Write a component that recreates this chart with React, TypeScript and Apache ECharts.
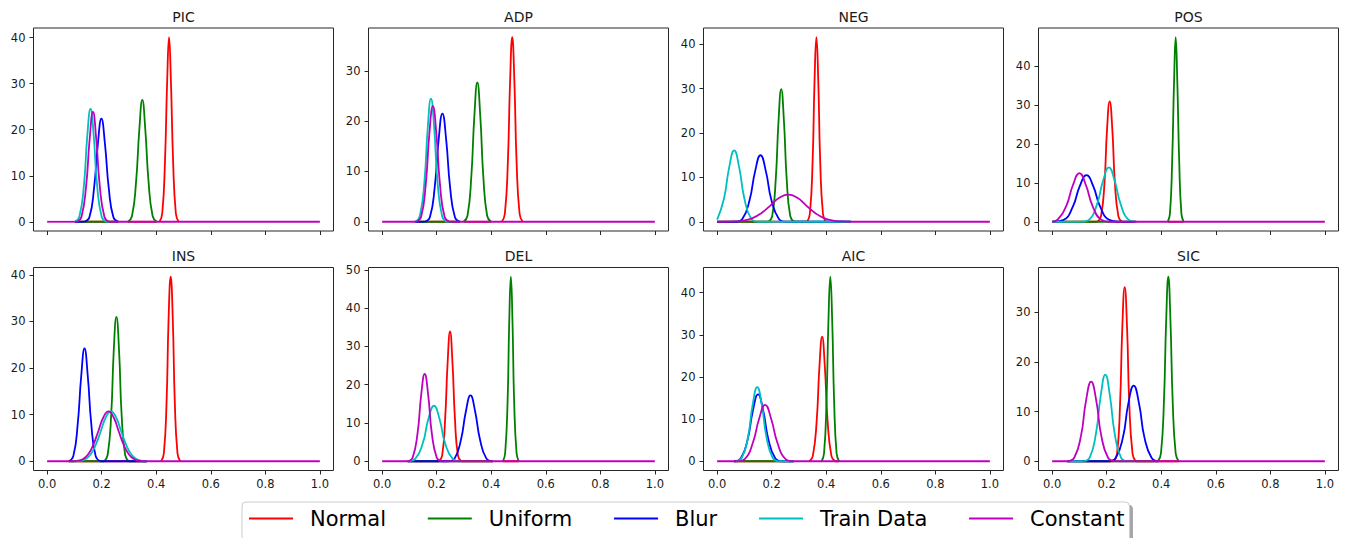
import React, { useEffect, useRef } from "react";
import * as echarts from "echarts";

// ---------- data ----------
const SERIES_NAMES = ["Normal", "Uniform", "Blur", "Train Data", "Constant"];
const SERIES_COLORS = ["#ff0000", "#008000", "#0000ff", "#00bfbf", "#bf00bf"];
const X_TICKS = [0, 0.2, 0.4, 0.6, 0.8, 1.0];
const X_RANGE = [0, 1];

// each panel: curves in order Normal, Uniform, Blur, Train Data, Constant ([x, density])
const PIC = [
  [[0.412,0],[0.422,1.8],[0.432,13.0],[0.440,30.3],[0.447,40.1],[0.454,30.3],[0.462,13.0],[0.472,1.8],[0.482,0]],
  [[0.296,0],[0.311,1.2],[0.326,8.6],[0.338,20.0],[0.349,26.5],[0.360,20.0],[0.372,8.6],[0.387,1.2],[0.402,0]],
  [[0.137,0],[0.155,1.0],[0.172,7.3],[0.186,16.9],[0.199,22.4],[0.212,16.9],[0.226,7.3],[0.243,1.0],[0.261,0]],
  [[0.102,0],[0.118,1.1],[0.135,8.0],[0.147,18.5],[0.159,24.5],[0.171,18.5],[0.183,8.0],[0.200,1.1],[0.216,0]],
  [[0.110,0],[0.126,1.1],[0.143,7.8],[0.156,18.0],[0.168,23.9],[0.180,18.0],[0.193,7.8],[0.210,1.1],[0.226,0]],
];
const ADP = [
  [[0.439,0],[0.450,1.6],[0.461,11.9],[0.469,27.7],[0.477,36.7],[0.485,27.7],[0.493,11.9],[0.504,1.6],[0.515,0]],
  [[0.299,0],[0.313,1.2],[0.327,9.0],[0.338,20.9],[0.349,27.7],[0.360,20.9],[0.371,9.0],[0.385,1.2],[0.399,0]],
  [[0.156,0],[0.175,0.9],[0.193,7.0],[0.207,16.2],[0.221,21.5],[0.235,16.2],[0.249,7.0],[0.267,0.9],[0.286,0]],
  [[0.122,0],[0.138,1.1],[0.155,8.0],[0.167,18.5],[0.179,24.5],[0.191,18.5],[0.203,8.0],[0.220,1.1],[0.236,0]],
  [[0.125,0],[0.143,1.0],[0.160,7.5],[0.173,17.4],[0.186,23.0],[0.199,17.4],[0.212,7.5],[0.229,1.0],[0.247,0]],
];
const NEG = [
  [[0.330,0],[0.340,1.8],[0.350,13.5],[0.357,31.4],[0.364,41.6],[0.371,31.4],[0.378,13.5],[0.388,1.8],[0.398,0]],
  [[0.188,0],[0.202,1.3],[0.215,9.7],[0.225,22.6],[0.235,29.9],[0.245,22.6],[0.255,9.7],[0.268,1.3],[0.282,0]],
  [[0.066,0],[0.093,0.7],[0.119,4.9],[0.139,11.3],[0.159,15.0],[0.179,11.3],[0.199,4.9],[0.226,0.7],[0.252,0]],
  [[0,0.5],[0.025,5.2],[0.044,12.2],[0.0625,16.1],[0.081,12.2],[0.100,5.2],[0.1245,0.7],[0.149,0]],
  [[0.032,0],[0.065,0.07],[0.098,0.27],[0.130,0.82],[0.163,2.0],[0.196,3.7],[0.228,5.4],[0.261,6.1],[0.294,5.4],[0.326,3.7],[0.359,2.0],[0.392,0.82],[0.425,0.27],[0.457,0.07],[0.490,0]],
];
const POS = [
  [[0.166,0],[0.179,1.4],[0.192,10.1],[0.201,23.4],[0.211,31.0],[0.221,23.4],[0.230,10.1],[0.243,1.4],[0.256,0]],
  [[0.424,0],[0.432,2.1],[0.440,15.4],[0.447,35.9],[0.453,47.5],[0.459,35.9],[0.466,15.4],[0.474,2.1],[0.482,0]],
  [[0.010,0],[0.043,0.5],[0.076,3.9],[0.101,9.1],[0.126,12.0],[0.151,9.1],[0.176,3.9],[0.209,0.5],[0.242,0]],
  [[0.108,0],[0.137,0.6],[0.165,4.6],[0.187,10.6],[0.208,14.0],[0.229,10.6],[0.251,4.6],[0.279,0.6],[0.308,0]],
  [[0,0],[0.020,0.55],[0.052,4.1],[0.076,9.4],[0.100,12.5],[0.124,9.4],[0.148,4.1],[0.180,0.55],[0.212,0]],
];
const INS = [
  [[0.418,0],[0.428,1.7],[0.438,12.9],[0.445,29.9],[0.453,39.6],[0.461,29.9],[0.468,12.9],[0.478,1.7],[0.488,0]],
  [[0.209,0],[0.222,1.4],[0.235,10.1],[0.244,23.4],[0.254,31.0],[0.264,23.4],[0.273,10.1],[0.286,1.4],[0.299,0]],
  [[0.079,0],[0.096,1.1],[0.112,7.9],[0.125,18.3],[0.137,24.2],[0.149,18.3],[0.162,7.9],[0.178,1.1],[0.195,0]],
  [[0.103,0],[0.122,0.12],[0.141,0.47],[0.159,1.44],[0.178,3.5],[0.197,6.5],[0.215,9.4],[0.234,10.7],[0.253,9.4],[0.271,6.5],[0.290,3.5],[0.309,1.44],[0.327,0.47],[0.346,0.12],[0.365,0]],
  [[0.094,0],[0.113,0.12],[0.132,0.47],[0.150,1.44],[0.169,3.5],[0.188,6.5],[0.206,9.4],[0.225,10.7],[0.244,9.4],[0.262,6.5],[0.281,3.5],[0.300,1.44],[0.318,0.47],[0.337,0.12],[0.356,0]],
];
const DEL = [
  [[0.208,0],[0.220,1.5],[0.231,11.0],[0.240,25.6],[0.249,33.9],[0.258,25.6],[0.267,11.0],[0.278,1.5],[0.290,0]],
  [[0.443,0],[0.451,2.1],[0.460,15.7],[0.466,36.4],[0.472,48.2],[0.478,36.4],[0.484,15.7],[0.493,2.1],[0.501,0]],
  [[0.243,0],[0.266,0.76],[0.289,5.6],[0.307,13.0],[0.324,17.2],[0.341,13.0],[0.359,5.6],[0.382,0.76],[0.405,0]],
  [[0.094,0],[0.121,0.64],[0.149,4.7],[0.169,10.9],[0.190,14.5],[0.211,10.9],[0.231,4.7],[0.259,0.64],[0.286,0]],
  [[0.095,0],[0.112,1.0],[0.130,7.4],[0.143,17.2],[0.156,22.8],[0.169,17.2],[0.182,7.4],[0.200,1.0],[0.217,0]],
];
const AIC = [
  [[0.338,0],[0.351,1.3],[0.365,9.6],[0.375,22.3],[0.385,29.6],[0.395,22.3],[0.405,9.6],[0.419,1.3],[0.432,0]],
  [[0.383,0],[0.392,1.9],[0.401,14.2],[0.408,33.1],[0.415,43.8],[0.422,33.1],[0.429,14.2],[0.438,1.9],[0.447,0]],
  [[0.062,0],[0.087,0.7],[0.112,5.2],[0.131,12.0],[0.150,15.9],[0.169,12.0],[0.188,5.2],[0.213,0.7],[0.238,0]],
  [[0.068,0],[0.090,0.77],[0.113,5.7],[0.130,13.3],[0.147,17.6],[0.164,13.3],[0.181,5.7],[0.204,0.77],[0.226,0]],
  [[0.072,0],[0.102,0.59],[0.131,4.4],[0.154,10.1],[0.176,13.4],[0.198,10.1],[0.221,4.4],[0.250,0.59],[0.280,0]],
];
const SIC = [
  [[0.226,0],[0.238,1.5],[0.249,11.4],[0.257,26.4],[0.266,35.0],[0.275,26.4],[0.283,11.4],[0.295,1.5],[0.306,0]],
  [[0.388,0],[0.399,1.6],[0.410,12.1],[0.418,28.0],[0.426,37.1],[0.434,28.0],[0.442,12.1],[0.453,1.6],[0.464,0]],
  [[0.207,0],[0.233,0.67],[0.260,4.9],[0.279,11.5],[0.299,15.2],[0.319,11.5],[0.338,4.9],[0.365,0.67],[0.391,0]],
  [[0.115,0],[0.138,0.77],[0.161,5.7],[0.178,13.1],[0.195,17.4],[0.212,13.1],[0.229,5.7],[0.252,0.77],[0.275,0]],
  [[0.056,0],[0.081,0.7],[0.106,5.2],[0.124,12.1],[0.143,16.0],[0.162,12.1],[0.180,5.2],[0.205,0.7],[0.230,0]],
];

const PIC_Y_TICKS = [0, 10, 20, 30, 40];
const ADP_Y_TICKS = [0, 10, 20, 30];
const NEG_Y_TICKS = [0, 10, 20, 30, 40];
const POS_Y_TICKS = [0, 10, 20, 30, 40];
const INS_Y_TICKS = [0, 10, 20, 30, 40];
const DEL_Y_TICKS = [0, 10, 20, 30, 40, 50];
const AIC_Y_TICKS = [0, 10, 20, 30, 40];
const SIC_Y_TICKS = [0, 10, 20, 30];

const PANEL_TITLES = ["PIC", "ADP", "NEG", "POS", "INS", "DEL", "AIC", "SIC"];
const PANEL_CURVES = [PIC, ADP, NEG, POS, INS, DEL, AIC, SIC];
const PANEL_Y_TICKS = [PIC_Y_TICKS, ADP_Y_TICKS, NEG_Y_TICKS, POS_Y_TICKS, INS_Y_TICKS, DEL_Y_TICKS, AIC_Y_TICKS, SIC_Y_TICKS];

// ---------- layout ----------
const FONT = "DejaVu Sans";
const GRID_LEFT0 = 33.5;
const GRID_STEP = 335;
const GRID_W = 300;
const GRID_H = 203;
const ROW_TOPS = [28, 267.5];
const TEXT_COLOR = "#1a1a1a";
const LINE_W = 1.8;

// visible zero-line pieces of a curve: where it is flat at 0 and not hidden by a later curve's flat part
function baselinePieces(curves: number[][][], s: number): number[][] {
  const own = [curves[s][0][0], curves[s][curves[s].length - 1][0]];
  let pieces: number[][];
  if (s === curves.length - 1) {
    pieces = [[X_RANGE[0], own[0]], [own[1], X_RANGE[1]]];
  } else {
    const iv = curves.slice(s + 1).map((c) => [c[0][0], c[c.length - 1][0]]).sort((a, b) => a[0] - b[0]);
    const merged: number[][] = [];
    iv.forEach((r) => {
      const last = merged[merged.length - 1];
      if (last && r[0] <= last[1]) last[1] = Math.max(last[1], r[1]);
      else merged.push([r[0], r[1]]);
    });
    pieces = [];
    merged.forEach((r) => {
      if (r[0] < own[0]) pieces.push([r[0], Math.min(r[1], own[0])]);
      if (r[1] > own[1]) pieces.push([Math.max(r[0], own[1]), r[1]]);
    });
  }
  return pieces
    .map((p) => [Math.max(p[0], X_RANGE[0]), Math.min(p[1], X_RANGE[1])])
    .filter((p) => p[1] > p[0]);
}

function buildOption() {
  const grids: any[] = [];
  const xAxes: any[] = [];
  const yAxes: any[] = [];
  const series: any[] = [];
  const graphics: any[] = [];

  PANEL_TITLES.forEach((title, p) => {
    const col = p % 4;
    const row = Math.floor(p / 4);
    const left = GRID_LEFT0 + GRID_STEP * col;
    const top = ROW_TOPS[row];
    grids.push({
      left, top, width: GRID_W, height: GRID_H,
      show: true, borderColor: "#262626", borderWidth: 1, backgroundColor: "transparent",
    });
    const curves = PANEL_CURVES[p];
    let m = 0;
    curves.forEach((c) => c.forEach((pt) => { if (pt[1] > m) m = pt[1]; }));
    xAxes.push({
      type: "value", gridIndex: p, min: -0.05, max: 1.05, position: "bottom",
      axisLine: { show: false, onZero: false },
      splitLine: { show: false },
      axisTick: { show: true, customValues: X_TICKS, length: 4, lineStyle: { color: "#262626", width: 1 } },
      axisLabel: {
        show: row === 1, customValues: X_TICKS, margin: 7,
        formatter: (v: number) => v.toFixed(1),
        fontFamily: FONT, fontSize: 11.5, color: TEXT_COLOR,
      },
    });
    const yTicks = PANEL_Y_TICKS[p];
    yAxes.push({
      type: "value", gridIndex: p, min: -0.05 * m, max: 1.05 * m, position: "left",
      axisLine: { show: false, onZero: false },
      splitLine: { show: false },
      axisTick: { show: true, customValues: yTicks, length: 4, lineStyle: { color: "#262626", width: 1 } },
      axisLabel: {
        customValues: yTicks, margin: 8,
        formatter: (v: number) => String(Math.round(v)),
        fontFamily: FONT, fontSize: 11.5, color: TEXT_COLOR,
      },
    });
    curves.forEach((c, s) => {
      const color = SERIES_COLORS[s];
      baselinePieces(curves, s).forEach((piece) => {
        series.push({
          type: "line", name: SERIES_NAMES[s], xAxisIndex: p, yAxisIndex: p,
          data: [[piece[0], 0], [piece[1], 0]], symbol: "none", silent: true,
          lineStyle: { color, width: LINE_W }, itemStyle: { color },
        });
      });
      series.push({
        type: "line", name: SERIES_NAMES[s], xAxisIndex: p, yAxisIndex: p,
        data: c, symbol: "none", smooth: 0.5, silent: true,
        lineStyle: { color, width: LINE_W, join: "round" }, itemStyle: { color },
      });
    });
    graphics.push({
      type: "text", x: left + GRID_W / 2, y: top - 11.5,
      style: { text: title, fontFamily: FONT, fontSize: 14, fill: TEXT_COLOR, align: "center", verticalAlign: "middle" },
    });
  });

  return {
    animation: false,
    backgroundColor: "#ffffff",
    grid: grids,
    xAxis: xAxes,
    yAxis: yAxes,
    series,
    graphic: graphics,
    legend: {
      data: SERIES_NAMES,
      left: 242, top: 502,
      orient: "horizontal",
      icon: "rect",
      itemWidth: 44, itemHeight: 2, itemGap: 41.8,
      padding: [6, 5, 13, 7],
      backgroundColor: "#ffffff",
      borderColor: "#cccccc", borderWidth: 1, borderRadius: 4,
      shadowColor: "rgba(0,0,0,0.35)", shadowOffsetX: 3, shadowOffsetY: 3, shadowBlur: 0,
      selectedMode: false,
      textStyle: { fontFamily: FONT, fontSize: 21, color: "#000000", padding: [0, 0, 0, 12] },
    },
  };
}

export default function App() {
  const ref = useRef<HTMLDivElement>(null);
  useEffect(() => {
    if (!ref.current) return;
    const chart = echarts.init(ref.current, undefined, { renderer: "svg" });
    chart.setOption(buildOption() as any);
    return () => chart.dispose();
  }, []);
  return (
    <div
      ref={ref}
      style={{ position: "fixed", left: 0, top: 0, width: 1347, height: 538, background: "#fff" }}
    />
  );
}
